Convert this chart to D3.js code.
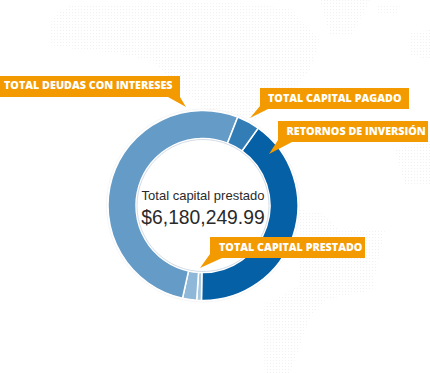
<!DOCTYPE html>
<html>
<head>
<meta charset="utf-8">
<script src="https://cdn.jsdelivr.net/npm/d3@7"></script>
<style>
  html, body { margin: 0; padding: 0; background: #fff; }
  svg { display: block; }
</style>
</head>
<body>
<div id="chart"></div>
<script>
// parts of the ring, clockwise from the dark slice (shares in %)
const labels = ["Retornos de inversión", "Otros", "Capital prestado", "Deudas con intereses", "Capital pagado"];
const shares = [40.4, 0.8, 2.4, 52.5, 3.9];
const colors = ["#0560a6", "#a9c8e0", "#8fb8d8", "#659bc7", "#337db6"];

const calloutTexts = ["TOTAL DEUDAS CON INTERESES", "TOTAL CAPITAL PAGADO", "RETORNOS DE INVERSIÓN", "TOTAL CAPITAL PRESTADO"];

const width = 430, height = 373;
const cx = 203, cy = 205.5, rOuter = 95, rInner = 67;

const svg = d3.select("#chart").append("svg")
  .attr("width", width)
  .attr("height", height);

// ==== faint dotted map behind the chart ====
const defs = svg.append("defs");
defs.append("pattern")
  .attr("id", "dots")
  .attr("width", 3).attr("height", 3)
  .attr("patternUnits", "userSpaceOnUse")
  .append("rect")
  .attr("width", 1).attr("height", 1)
  .attr("fill", "#f1f1f1");

const blobs = [
  "M50,20 L70,5 L225,2 L290,8 L320,40 L310,70 L285,100 L240,130 L205,110 L150,60 L110,52 L80,50 L50,45 Z",
  "M320,0 L370,0 L352,35 L330,35 Z",
  "M378,4 L400,4 L398,13 L378,13 Z",
  "M410,32 L430,30 L430,60 L410,55 Z",
  "M395,150 L430,140 L430,185 L405,185 Z",
  "M300,55 L312,60 L300,80 Z",
  "M200,130 L255,130 L290,165 L265,185 L200,170 Z",
  "M300,210 L320,212 L340,230 L385,230 L372,290 L325,300 L310,318 L290,373 L265,373 L262,322 L265,305 L300,285 Z"
];
svg.append("g").selectAll("path")
  .data(blobs)
  .join("path")
  .attr("d", d => d)
  .attr("fill", "url(#dots)");

// ==== ring ====
const pie = d3.pie()
  .sort(null)
  .startAngle(35.5 * Math.PI / 180)
  .endAngle((35.5 + 360) * Math.PI / 180);

const arc = d3.arc().innerRadius(rInner).outerRadius(rOuter);

const g = svg.append("g").attr("transform", `translate(${cx},${cy})`);

g.append("circle")
  .attr("r", rOuter + 1.5)
  .attr("fill", "#fff")
  .attr("stroke", "#f6f6f6");

g.selectAll(".slice")
  .data(pie(shares))
  .join("path")
  .attr("class", "slice")
  .attr("d", arc)
  .attr("fill", (d, i) => colors[i])
  .attr("stroke", "#fff")
  .attr("stroke-width", 1.5)
  .append("title")
  .text((d, i) => labels[i]);

g.append("circle")
  .attr("r", rInner - 1)
  .attr("fill", "none")
  .attr("stroke", "#c9d3e0")
  .attr("stroke-width", 0.8);

g.append("text")
  .attr("x", 0).attr("y", -5.5)
  .attr("text-anchor", "middle")
  .style("font-family", "'Liberation Sans', Arial, sans-serif")
  .style("font-size", "13px")
  .attr("fill", "#2a2a2a")
  .text("Total capital prestado");

g.append("text")
  .attr("x", 0).attr("y", 18.5)
  .attr("text-anchor", "middle")
  .style("font-family", "'Liberation Sans', Arial, sans-serif")
  .style("font-size", "19.3px")
  .attr("fill", "#2a2a2a")
  .text("$6,180,249.99");

// ==== orange callouts ====
const calloutShapes = [
  "M0,76 L180,76 L180,97 L186,107 L168,97 L0,97 Z",
  "M260,88 L409,88 L409,109 L268,109 L250,118 L260,106 Z",
  "M278,121 L428,121 L428,142 L292,142 L269,154 L278,140 Z",
  "M210,237 L365,237 L365,258 L222,258 L200,268 L210,254 Z"
];
const calloutPos = [[4, 86.5], [268, 99], [286.5, 132], [219, 248]];

const callouts = svg.append("g");
callouts.selectAll("path")
  .data(calloutShapes)
  .join("path")
  .attr("d", d => d)
  .attr("fill", "#f39a00");

callouts.selectAll("text")
  .data(calloutTexts)
  .join("text")
  .attr("x", (d, i) => calloutPos[i][0])
  .attr("y", (d, i) => calloutPos[i][1])
  .attr("dominant-baseline", "middle")
  .style("font-family", "'Open Sans', sans-serif")
  .style("font-size", "10.75px")
  .style("font-weight", 800)
  .attr("fill", "#fff")
  .text(d => d);
</script>
</body>
</html>
